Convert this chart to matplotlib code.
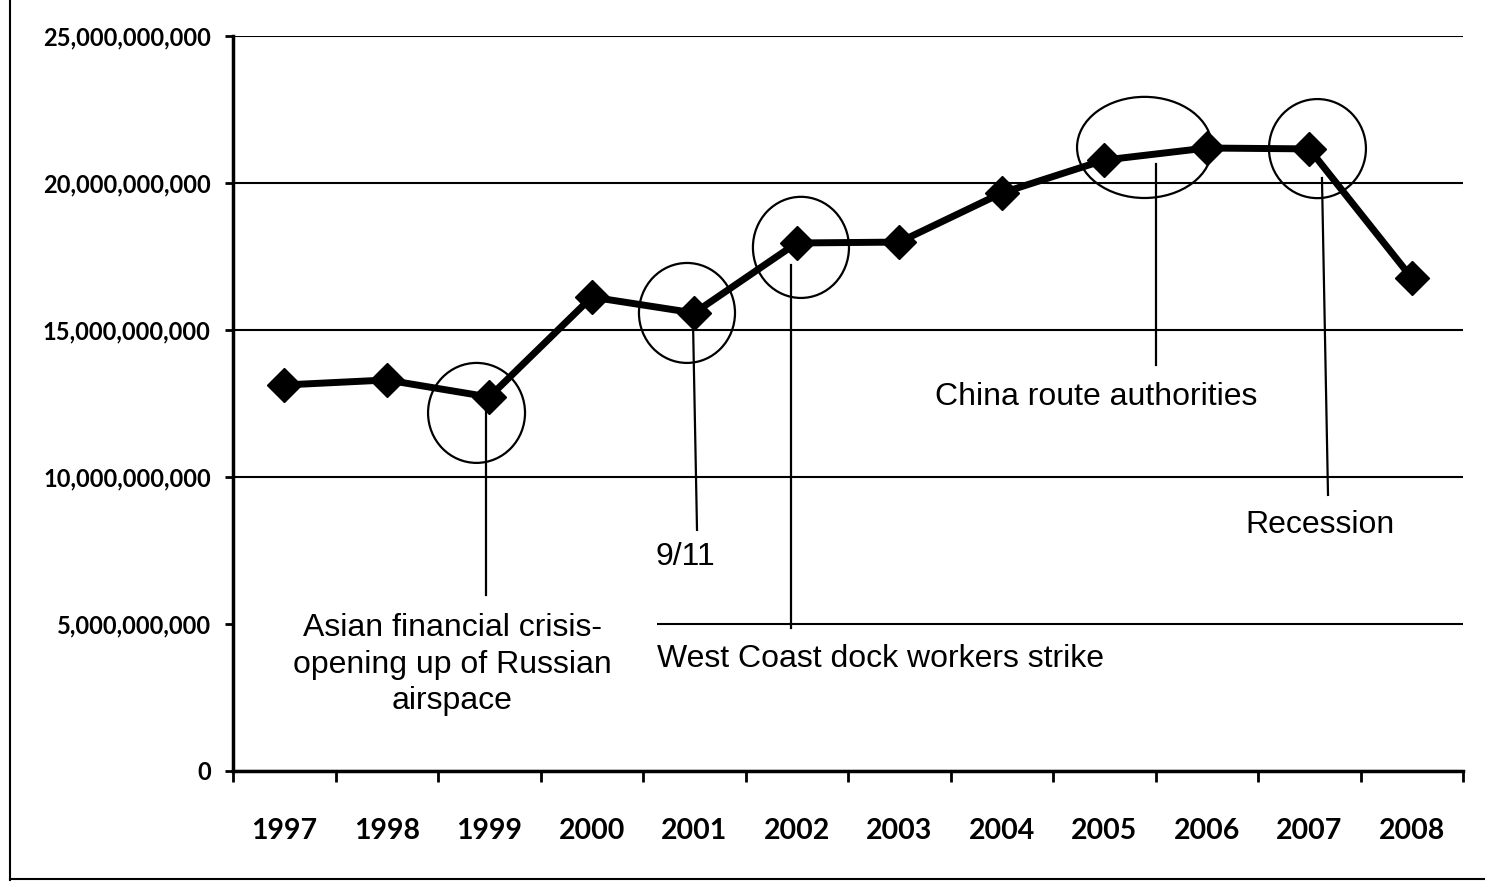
import matplotlib
matplotlib.use('Agg')
import matplotlib.pyplot as plt
from matplotlib.patches import Ellipse, Rectangle
from matplotlib.lines import Line2D
from matplotlib.ticker import FuncFormatter, FixedLocator

years = ['1997', '1998', '1999', '2000', '2001', '2002',
         '2003', '2004', '2005', '2006', '2007', '2008']
values = [13.13e9, 13.30e9, 12.72e9, 16.12e9, 15.58e9, 17.96e9,
          17.99e9, 19.66e9, 20.78e9, 21.19e9, 21.16e9, 16.77e9]

y_ticks = [0, 5e9, 10e9, 15e9, 20e9, 25e9]

# event notes: (ellipse centre x, centre y, width, height,
#               leader x0, y0, x1, y1, text x, text y, text, h-align)
events = [
    (1.876, 12.18e9, 0.946, 3.40e9, 1.968, 12.69e9, 1.968, 5.99e9,
     1.637, 3.62e9, 'Asian financial crisis-\nopening up of Russian\nairspace', 'center'),
    (3.929, 15.58e9, 0.937, 3.40e9, 3.988, 15.24e9, 4.027, 8.20e9,
     3.91, 7.28e9, '9/11', 'center'),
    (5.041, 17.81e9, 0.937, 3.44e9, 4.944, 17.21e9, 4.944, 4.86e9,
     3.637, 3.80e9, 'West Coast dock workers strike', 'left'),
    (8.393, 21.21e9, 1.317, 3.44e9, 8.505, 20.63e9, 8.505, 13.81e9,
     7.92, 12.72e9, 'China route authorities', 'center'),
    (10.08, 21.17e9, 0.946, 3.37e9, 10.124, 20.17e9, 10.183, 9.39e9,
     10.10, 8.36e9, 'Recession', 'center'),
]

tick_font = 'Lato'
note_font = 'Liberation Sans'

fig = plt.figure(figsize=(14.85, 8.83), dpi=100)
ax = fig.add_axes([233 / 1485, 1 - 771 / 883, 1230 / 1485, 735 / 883])

x = list(range(len(years)))
ax.plot(x, values, color='black', linewidth=5, marker='D', markersize=17,
        markerfacecolor='black', markeredgecolor='black', zorder=4)

ax.set_xlim(-0.5, len(years) - 0.5)
ax.set_ylim(0, 25e9)

ax.set_yticks(y_ticks)
ax.yaxis.set_major_formatter(FuncFormatter(lambda v, p: f'{v:,.0f}'))
ax.grid(axis='y', color='black', linewidth=1.5)
ax.set_axisbelow(True)

# category labels sit in the middle, ticks between categories
ax.set_xticks(x)
ax.set_xticklabels(years)
ax.xaxis.set_minor_locator(FixedLocator([i - 0.5 for i in range(len(years) + 1)]))
ax.tick_params(axis='x', which='major', length=0, pad=34)
ax.tick_params(axis='x', which='minor', length=8, width=2, direction='out')
ax.tick_params(axis='y', length=6, width=2, direction='out', pad=10)

for lbl in ax.get_xticklabels():
    lbl.set_fontfamily(tick_font)
    lbl.set_fontweight('bold')
    lbl.set_fontsize(20.5)
for lbl in ax.get_yticklabels():
    lbl.set_fontfamily(tick_font)
    lbl.set_fontweight('bold')
    lbl.set_fontsize(17)

for side in ['top', 'right']:
    ax.spines[side].set_visible(False)
ax.spines['left'].set_linewidth(2.5)
ax.spines['bottom'].set_linewidth(2.5)

# white text box hiding the gridline behind the first note
ax.add_patch(Rectangle((-0.5, 1.7e9), 4.14, 4.15e9, facecolor='white',
                       edgecolor='none', zorder=1))

for (cx, cy, w, h, lx0, ly0, lx1, ly1, tx, ty, txt, ha) in events:
    ax.add_patch(Ellipse((cx, cy), w, h, fill=False, edgecolor='black',
                         linewidth=1.6, zorder=5))
    ax.plot([lx0, lx1], [ly0, ly1], color='black', linewidth=1.6, zorder=5)
    ax.text(tx, ty, txt, ha=ha, va='center', fontsize=23, family=note_font,
            linespacing=1.27, zorder=6)

# outer chart frame
fig.add_artist(Line2D([10 / 1485, 10 / 1485], [0.003, 1.0], color='black', linewidth=1.5))
fig.add_artist(Line2D([10 / 1485, 1.0], [0.004, 0.004], color='black', linewidth=1.5))

plt.savefig('out.png', dpi=100)
